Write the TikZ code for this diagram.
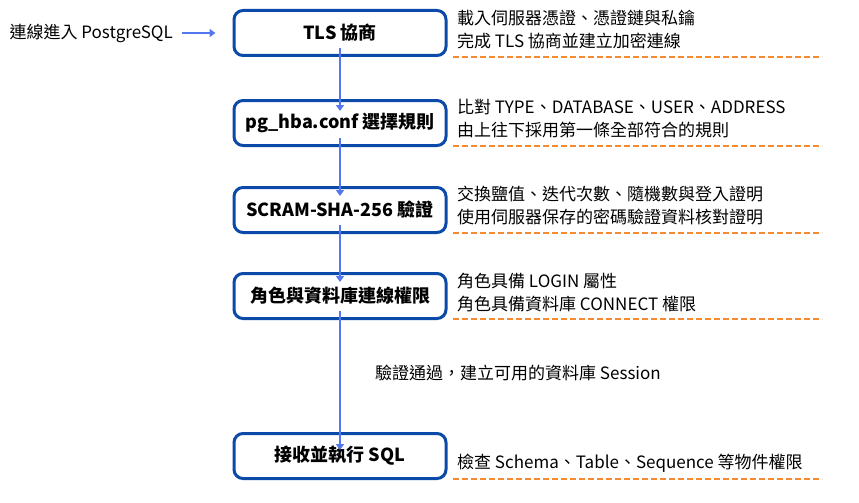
\documentclass[tikz,border=0pt]{standalone}
\usepackage{fontspec}
\setmainfont{Noto Sans CJK TC}
\usetikzlibrary{arrows.meta}
\definecolor{bd}{HTML}{0B4AA8}
\definecolor{ar}{HTML}{5577EE}
\definecolor{og}{HTML}{F58A2E}
\begin{document}
\begin{tikzpicture}[x=1pt,y=-1pt,
 box/.style={draw=bd,line width=3pt,rounded corners=9pt,minimum width=212pt,minimum height=45pt,font=\fontsize{18}{20}\selectfont\bfseries,inner sep=0pt},
 arr/.style={draw=ar,line width=1.6pt,-{Triangle[length=6pt,width=8pt]}},
 ann/.style={anchor=west,font=\fontsize{17}{19}\selectfont,inner sep=0pt},
 dl/.style={draw=og,line width=1.6pt,dash pattern=on 6pt off 3pt}]
\path[use as bounding box,fill=white] (0,0) rectangle (859,503);
\node[box] (b1) at (340,33) {TLS 協商};
\node[box] (b2) at (340,123) {pg\_hba.conf 選擇規則};
\node[box] (b3) at (340,210) {SCRAM-SHA-256 驗證};
\node[box] (b4) at (340,296) {角色與資料庫連線權限};
\node[box] (b5) at (340,456) {接收並執行 SQL};
\node[anchor=east,font=\fontsize{17}{19}\selectfont,inner sep=0pt] (in) at (173,33) {連線進入 PostgreSQL};
\draw[arr] ([xshift=9pt]in.east) -- ([xshift=-17pt]b1.west);
\draw[arr] ([yshift=9pt]b1.south) -- ([yshift=-12pt]b2.north);
\draw[arr] ([yshift=9pt]b2.south) -- ([yshift=-10pt]b3.north);
\draw[arr] ([yshift=9pt]b3.south) -- ([yshift=-10pt]b4.north);
\draw[arr] ([yshift=9pt]b4.south) -- ([yshift=-18pt]b5.north);
\node[ann] (m) at (375,373) {驗證通過，建立可用的資料庫 Session};
\node[ann] (a1) at (457,18) {載入伺服器憑證、憑證鏈與私鑰};
\node[ann] (a2) at (457,41) {完成 TLS 協商並建立加密連線};
\node[ann] (a3) at (457,107) {比對 TYPE、DATABASE、USER、ADDRESS};
\node[ann] (a4) at (457,130) {由上往下採用第一條全部符合的規則};
\node[ann] (a5) at (457,194) {交換鹽值、迭代次數、隨機數與登入證明};
\node[ann] (a6) at (457,217) {使用伺服器保存的密碼驗證資料核對證明};
\node[ann] (a7) at (457,281) {角色具備 LOGIN 屬性};
\node[ann] (a8) at (457,304) {角色具備資料庫 CONNECT 權限};
\node[ann] (a9) at (457,463) {檢查 Schema、Table、Sequence 等物件權限};
\foreach \y in {57,146,233,319,479} \draw[dl] (453,\y) -- (822,\y);
\end{tikzpicture}
\end{document}
